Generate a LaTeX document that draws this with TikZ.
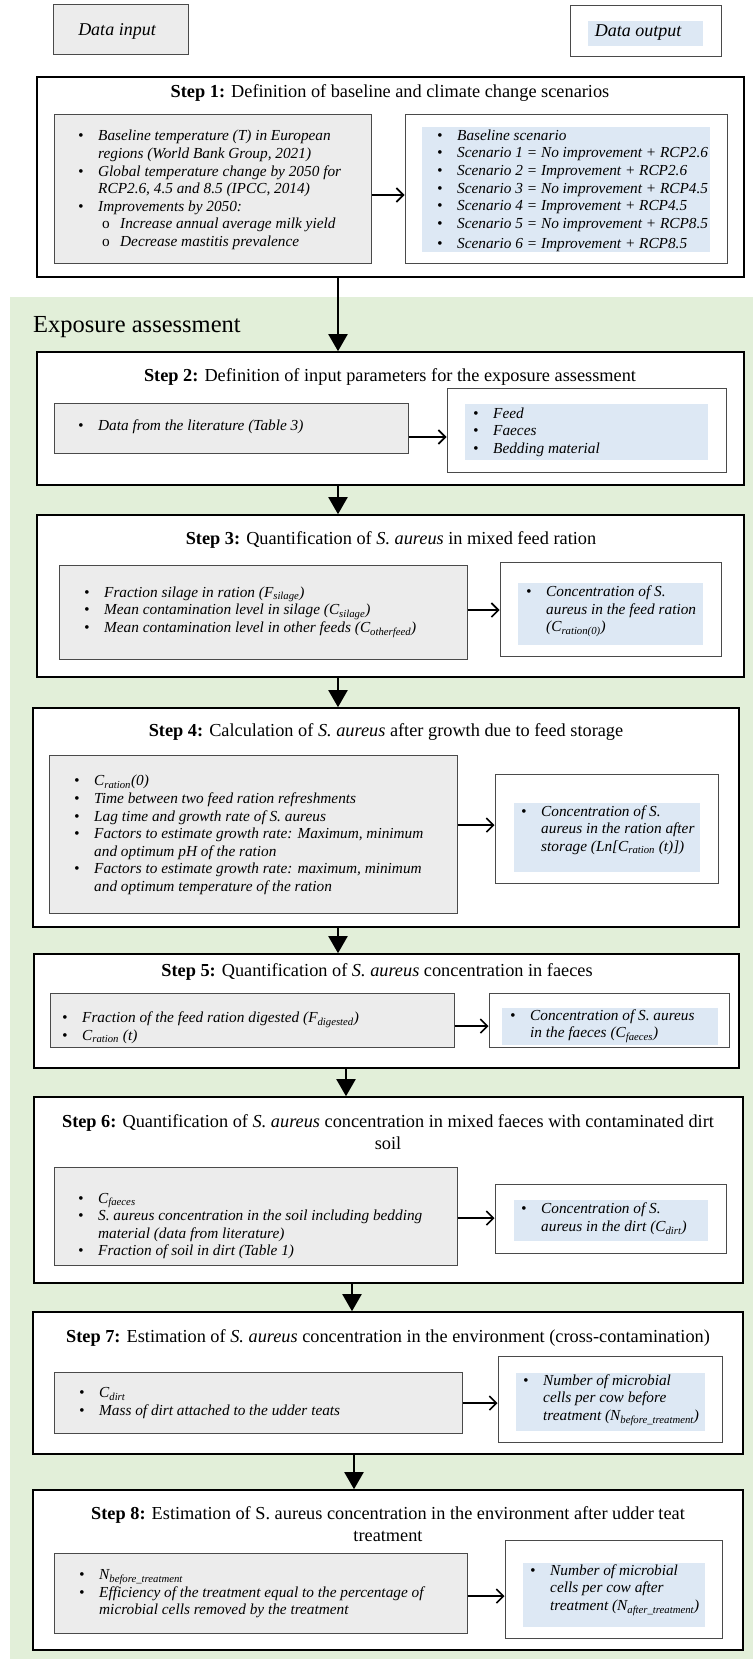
\documentclass[tikz,border=0pt]{standalone}
\usepackage{fontspec}
\setmainfont{Liberation Serif}
\usetikzlibrary{arrows.meta,fit,calc}
\definecolor{ingray}{HTML}{ECECEC}
\definecolor{outblue}{HTML}{DDE8F4}
\definecolor{bggreen}{HTML}{E2EFD9}
\definecolor{edgegray}{HTML}{4A4A4A}
\newcommand\bodyfont{\fontsize{15.3}{17.6}\selectfont\itshape}
\newcommand\titlefont{\fontsize{18.3}{22}\selectfont}
\newcommand\bl{\makebox[20pt][l]{\textbullet}}
\newcommand\ind{\hspace*{20pt}}
\newcommand\sbl{\hspace*{24pt}\makebox[18pt][l]{\upshape o}}
\newcommand\sbs[1]{\textsubscript{#1}}
\begin{document}
\begin{tikzpicture}[x=1pt,y=-1pt,
  stepbox/.style={draw=black, line width=1.6pt, fill=white, inner sep=0pt},
  inbox/.style={draw=edgegray, line width=1pt, fill=ingray, inner sep=0pt},
  outbox/.style={draw=edgegray, line width=1pt, fill=white, inner sep=0pt},
  bluefill/.style={fill=outblue, inner sep=0pt},
  body/.style={font=\bodyfont, align=left, inner sep=0pt, anchor=west},
  ttl/.style={font=\titlefont, align=center, inner sep=0pt},
  varrow/.style={line width=2pt, -{Triangle[width=19pt,length=17pt]}},
  harrow/.style={line width=1.6pt, -{Straight Barb[length=7pt,width=14pt]}}]
\useasboundingbox (0,0) rectangle (753,1659);
\fill[white] (0,0) rectangle (753,1659);
\fill[bggreen] (10,297) rectangle (753,1659);

% legend
\node[inbox, fit={(53,5) (188,55)}] (legin) {};
\node[font=\fontsize{18}{21}\selectfont\itshape, inner sep=0pt] (legint) at (117,31) {Data input};
\node[outbox, fit={(570,6) (721,57)}] (legout) {};
\node[bluefill, fit={(588,21) (703,46)}] (legoutb) {};
\node[font=\fontsize{18}{21}\selectfont\itshape, inner sep=0pt] (legoutt) at (638,33) {Data output};

\node[font=\fontsize{24.5}{28}\selectfont, inner sep=0pt, anchor=west] (expo) at (33,327) {Exposure assessment};

% Step 1
\node[stepbox, fit={(37,77) (744,277)}] (s1) {};
\node[ttl] (t1) at (390,93) {\textbf{Step 1:} Definition of baseline and climate change scenarios};
\node[inbox, fit={(54,115) (371,263)}] (s1in) {};
\node[outbox, fit={(405,115) (727,263)}] (s1out) {};
\node[bluefill, fit={(422,127) (710,252)}] (s1b) {};
\node[body] (s1it) at (78,190) {\bl Baseline temperature (T) in European\\
\ind regions (World Bank Group, 2021)\\
\bl Global temperature change by 2050 for\\
\ind RCP2.6, 4.5 and 8.5 (IPCC, 2014)\\
\bl Improvements by 2050:\\
\sbl Increase annual average milk yield\\
\sbl Decrease mastitis prevalence};
\node[body] (s1ot) at (437,191) {\bl Baseline scenario\\
\bl Scenario 1 = No improvement + RCP2.6\\
\bl Scenario 2 = Improvement + RCP2.6\\
\bl Scenario 3 = No improvement + RCP4.5\\
\bl Scenario 4 = Improvement + RCP4.5\\
\bl Scenario 5 = No improvement + RCP8.5\\[3pt]
\bl Scenario 6 = Improvement + RCP8.5};
\draw[harrow] (s1in.east |- 0,195) -- (s1out.west |- 0,195);

% Step 2
\node[stepbox, fit={(37,352) (744,485)}] (s2) {};
\node[ttl] (t2) at (390,377) {\textbf{Step 2:} Definition of input parameters for the exposure assessment};
\node[inbox, fit={(54,403) (408,453)}] (s2in) {};
\node[outbox, fit={(447,388) (726,472)}] (s2out) {};
\node[bluefill, fit={(465,404) (708,460)}] (s2b) {};
\node[body] (s2it) at (78,427) {\bl Data from the literature (Table 3)};
\node[body] (s2ot) at (473,432) {\bl Feed\\ \bl Faeces\\ \bl Bedding material};
\draw[harrow] (s2in.east |- 0,437) -- (s2out.west |- 0,437);

% Step 3
\node[stepbox, fit={(37,515) (744,677)}] (s3) {};
\node[ttl] (t3) at (391,540) {\textbf{Step 3:} Quantification of \textit{S. aureus} in mixed feed ration};
\node[inbox, fit={(59,565) (467,659)}] (s3in) {};
\node[outbox, fit={(500,562) (721,656)}] (s3out) {};
\node[bluefill, fit={(518,583) (703,645)}] (s3b) {};
\node[body] (s3it) at (84,612) {\bl Fraction silage in ration (F\sbs{silage})\\
\bl Mean contamination level in silage (C\sbs{silage})\\
\bl Mean contamination level in other feeds (C\sbs{otherfeed})};
\node[body] (s3ot) at (526,611) {\bl Concentration of S.\\
\ind aureus in the feed ration\\
\ind (C\sbs{ration(0)})};
\draw[harrow] (s3in.east |- 0,610) -- (s3out.west |- 0,610);

% Step 4
\node[stepbox, fit={(33,708) (739,927)}] (s4) {};
\node[ttl] (t4) at (386,732) {\textbf{Step 4:} Calculation of \textit{S. aureus} after growth due to feed storage};
\node[inbox, fit={(49,755) (457,913)}] (s4in) {};
\node[outbox, fit={(495,774) (718,883)}] (s4out) {};
\node[bluefill, fit={(514,803) (700,872)}] (s4b) {};
\node[body] (s4it) at (74,835) {\bl C\sbs{ration}(0)\\
\bl Time between two feed ration refreshments\\
\bl Lag time and growth rate of S. aureus\\
\bl Factors to estimate growth rate: Maximum, minimum\\
\ind and optimum pH of the ration\\
\bl Factors to estimate growth rate: maximum, minimum\\
\ind and optimum temperature of the ration};
\node[body] (s4ot) at (521,830) {\bl Concentration of S.\\
\ind aureus in the ration after\\
\ind storage (Ln[C\sbs{ration} (t)])};
\draw[harrow] (s4in.east |- 0,825) -- (s4out.west |- 0,825);

% Step 5
\node[stepbox, fit={(34,954) (739,1068)}] (s5) {};
\node[ttl] (t5) at (377,972) {\textbf{Step 5:} Quantification of \textit{S. aureus} concentration in faeces};
\node[inbox, fit={(50,993) (454,1047)}] (s5in) {};
\node[outbox, fit={(489,993) (729,1047)}] (s5out) {};
\node[bluefill, fit={(502,1008) (718,1045)}] (s5b) {};
\node[body] (s5it) at (62,1028) {\bl Fraction of the feed ration digested (F\sbs{digested})\\
\bl C\sbs{ration} (t)};
\node[body] (s5ot) at (510,1026) {\bl Concentration of S. aureus\\
\ind in the faeces (C\sbs{faeces})};
\draw[harrow] (s5in.east |- 0,1026) -- (s5out.west |- 0,1026);

% Step 6
\node[stepbox, fit={(34,1097) (743,1283)}] (s6) {};
\node[ttl] (t6) at (388,1132) {\textbf{Step 6:} Quantification of \textit{S. aureus} concentration in mixed faeces with contaminated dirt\\ soil};
\node[inbox, fit={(54,1167) (457,1265)}] (s6in) {};
\node[outbox, fit={(495,1184) (726,1253)}] (s6out) {};
\node[bluefill, fit={(514,1200) (708,1241)}] (s6b) {};
\node[body] (s6it) at (78,1226) {\bl C\sbs{faeces}\\
\bl S. aureus concentration in the soil including bedding\\
\ind material (data from literature)\\
\bl Fraction of soil in dirt (Table 1)};
\node[body] (s6ot) at (521,1219) {\bl Concentration of S.\\
\ind aureus in the dirt (C\sbs{dirt})};
\draw[harrow] (s6in.east |- 0,1218) -- (s6out.west |- 0,1218);

% Step 7
\node[stepbox, fit={(33,1312) (743,1454)}] (s7) {};
\node[ttl] (t7) at (388,1338) {\textbf{Step 7:} Estimation of \textit{S. aureus} concentration in the environment (cross-contamination)};
\node[inbox, fit={(54,1372) (462,1433)}] (s7in) {};
\node[outbox, fit={(498,1356) (722,1442)}] (s7out) {};
\node[bluefill, fit={(516,1373) (705,1431)}] (s7b) {};
\node[body] (s7it) at (79,1403) {\bl C\sbs{dirt}\\
\bl Mass of dirt attached to the udder teats};
\node[body] (s7ot) at (523,1400) {\bl Number of microbial\\
\ind cells per cow before\\
\ind treatment (N\sbs{before\_treatment})};
\draw[harrow] (s7in.east |- 0,1403) -- (s7out.west |- 0,1403);

% Step 8
\node[stepbox, fit={(33,1490) (743,1650)}] (s8) {};
\node[ttl] (t8) at (388,1524) {\textbf{Step 8:} Estimation of S. aureus concentration in the environment after udder teat\\ treatment};
\node[inbox, fit={(54,1553) (467,1633)}] (s8in) {};
\node[outbox, fit={(505,1540) (722,1638)}] (s8out) {};
\node[bluefill, fit={(523,1563) (705,1627)}] (s8b) {};
\node[body] (s8it) at (79,1594) {\bl N\sbs{before\_treatment}\\
\bl Efficiency of the treatment equal to the percentage of\\
\ind microbial cells removed by the treatment};
\node[body] (s8ot) at (530,1590) {\bl Number of microbial\\
\ind cells per cow after\\
\ind treatment (N\sbs{after\_treatment})};
\draw[harrow] (s8in.east |- 0,1596) -- (s8out.west |- 0,1596);

% vertical connectors
\coordinate (ax1) at (338,0);
\coordinate (ax2) at (346,0);
\coordinate (ax3) at (352,0);
\coordinate (ax4) at (354,0);
\draw[varrow] (ax1 |- s1.south) -- (ax1 |- s2.north);
\draw[varrow] (ax1 |- s2.south) -- (ax1 |- s3.north);
\draw[varrow] (ax1 |- s3.south) -- (ax1 |- s4.north);
\draw[varrow] (ax1 |- s4.south) -- (ax1 |- s5.north);
\draw[varrow] (ax2 |- s5.south) -- (ax2 |- s6.north);
\draw[varrow] (ax3 |- s6.south) -- (ax3 |- s7.north);
\draw[varrow] (ax4 |- s7.south) -- (ax4 |- s8.north);
\end{tikzpicture}
\end{document}
